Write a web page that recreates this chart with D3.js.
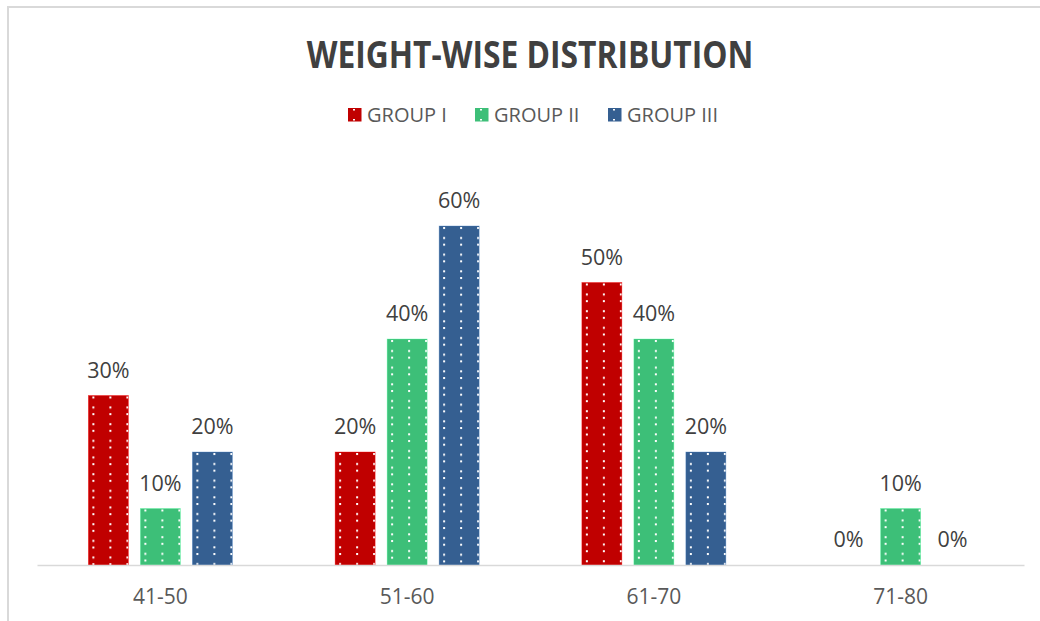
<!DOCTYPE html>
<html>
<head>
<meta charset="utf-8">
<script src="https://cdn.jsdelivr.net/npm/d3@7"></script>
<style>
  html, body { margin: 0; padding: 0; background: #fff; }
  svg { display: block; }
</style>
</head>
<body>
<svg id="chart" width="1040" height="621"></svg>
<script>
// Weight ranges and share of each group (fraction of group)
const categories = ["41-50", "51-60", "61-70", "71-80"];
const seriesNames = ["GROUP I", "GROUP II", "GROUP III"];
const groupI = [0.30, 0.20, 0.50, 0.00];
const groupII = [0.10, 0.40, 0.40, 0.10];
const groupIII = [0.20, 0.60, 0.20, 0.00];
const seriesColors = ["#c00000", "#3dbf78", "#355f91"];
const titleText = "WEIGHT-WISE DISTRIBUTION";

const seriesValues = [groupI, groupII, groupIII];
const W = 1040, H = 621;
const svg = d3.select("#chart");
const defs = svg.append("defs");
const font = "'Open Sans', 'DejaVu Sans', sans-serif";

// outer frame (only top and left edges fall inside the canvas)
svg.append("path")
  .attr("d", `M8,${H} L8,7 L${W},7`)
  .attr("fill", "none")
  .attr("stroke", "#d9d9d9")
  .attr("stroke-width", 2);

// title, condensed horizontally to its target width
const titleG = svg.append("g");
const title = titleG.append("text")
  .attr("x", 0).attr("y", 0)
  .attr("text-anchor", "middle")
  .attr("font-family", font)
  .attr("font-weight", 700)
  .attr("font-size", 38)
  .attr("fill", "#404040")
  .text(titleText);
{
  const w = title.node().getComputedTextLength();
  titleG.attr("transform", `translate(530,68) scale(${447 / w},1)`);
}

// scales
const x0 = d3.scaleBand().domain(categories).range([37, 1024]).paddingInner(0).paddingOuter(0);
const y = d3.scaleLinear().domain([0, 0.7]).range([565, 169.5]);
const barW = 40, barStep = 52;

// flatten bars
const bars = [];
seriesValues.forEach((vals, s) => {
  vals.forEach((v, i) => {
    const cx = x0(categories[i]) + x0.bandwidth() / 2 + (s - 1) * barStep;
    bars.push({ s, i, v, x: cx - barW / 2, cat: categories[i] });
  });
});

// dotted fill patterns, one per bar anchored at its top-left corner
bars.forEach((b, k) => {
  const p = defs.append("pattern")
    .attr("id", "dots" + k)
    .attr("patternUnits", "userSpaceOnUse")
    .attr("x", b.x).attr("y", y(b.v))
    .attr("width", 17).attr("height", 16.67);
  p.append("rect").attr("width", 17).attr("height", 16.67).attr("fill", seriesColors[b.s]);
  p.append("rect").attr("x", 4).attr("y", 1).attr("width", 2).attr("height", 2).attr("fill", "#fff");
  p.append("rect").attr("x", 4).attr("y", 11).attr("width", 2).attr("height", 2).attr("fill", "#fff");
});

svg.append("g").selectAll("rect")
  .data(bars.filter(b => b.v > 0))
  .join("rect")
  .attr("x", d => d.x)
  .attr("y", d => y(d.v))
  .attr("width", barW)
  .attr("height", d => y(0) - y(d.v))
  .attr("fill", d => `url(#dots${bars.indexOf(d)})`)
  .attr("stroke", d => d3.color(seriesColors[d.s]).brighter(0.8))
  .attr("stroke-width", 0.6)
  .attr("stroke-opacity", 0.6);

// value labels
svg.append("g").selectAll("text")
  .data(bars)
  .join("text")
  .attr("x", d => d.x + barW / 2)
  .attr("y", d => y(d.v) - 18)
  .attr("text-anchor", "middle")
  .attr("font-family", font)
  .attr("font-size", 21.5)
  .attr("fill", "#404040")
  .text(d => d3.format(".0%")(d.v));

// category axis
const xAxis = svg.append("g")
  .attr("transform", `translate(0,${y(0)})`)
  .call(d3.axisBottom(x0).tickSize(0).tickPadding(0));
xAxis.select(".domain").attr("stroke", "#d9d9d9").attr("stroke-width", 1.5);
xAxis.selectAll("text")
  .attr("dy", 0)
  .attr("y", 39)
  .attr("font-family", font)
  .attr("font-size", 21)
  .attr("fill", "#595959");

// legend
const legendX = [348, 475, 608];
const legend = svg.append("g");
seriesNames.forEach((name, s) => {
  const g = legend.append("g").attr("transform", `translate(${legendX[s]},0)`);
  g.append("rect").attr("x", 0).attr("y", 108).attr("width", 13.5).attr("height", 13.5).attr("fill", seriesColors[s]);
  g.append("rect").attr("x", 5).attr("y", 109).attr("width", 2).attr("height", 1.5).attr("fill", "#fff");
  g.append("rect").attr("x", 5).attr("y", 119).attr("width", 2).attr("height", 1.5).attr("fill", "#fff");
  g.append("text")
    .attr("x", 19).attr("y", 122)
    .attr("font-family", font)
    .attr("font-size", 20)
    .attr("fill", "#595959")
    .text(name);
});
</script>
</body>
</html>
